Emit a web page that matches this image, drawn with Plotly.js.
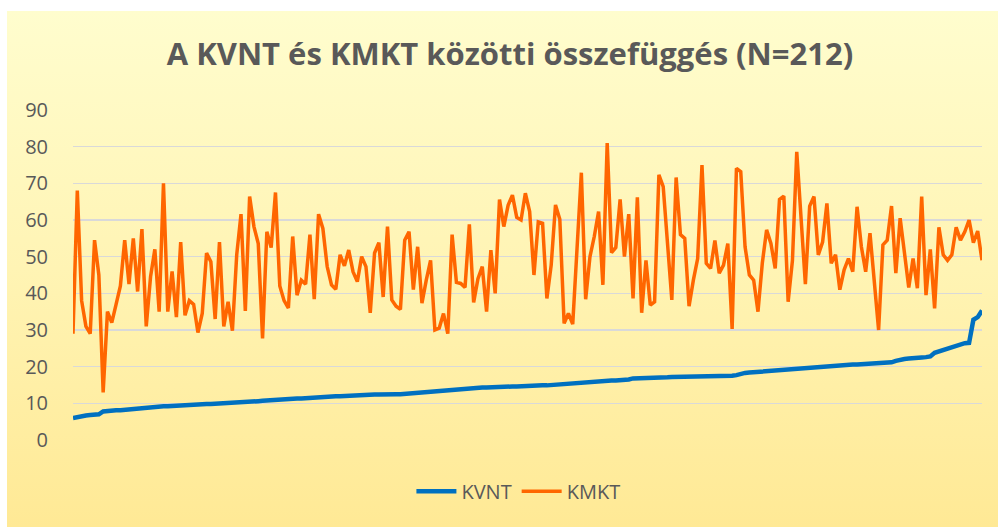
<!DOCTYPE html>
<html>
<head>
<meta charset="utf-8">
<script src="https://cdn.plot.ly/plotly-3.0.1.min.js"></script>
<style>
  html, body { margin: 0; padding: 0; background: #ffffff; }
  #bg { position: absolute; left: 7px; top: 11px; width: 991px; height: 516px;
        background: linear-gradient(to bottom, #FFFDCE 0%, #FFF4B4 50%, #FFE995 100%); }
  #chart { position: absolute; left: 0; top: 0; width: 998px; height: 527px; }
</style>
</head>
<body>
<div id="bg"></div>
<div id="chart"></div>
<script>
const titleText = "A KVNT és KMKT közötti összefüggés (N=212)";
const seriesNames = ["KVNT", "KMKT"];
const yTicks = [0, 10, 20, 30, 40, 50, 60, 70, 80, 90];

const kvnt = [
  6.0, 6.3, 6.6, 6.7, 6.8, 6.9, 7.0, 7.8, 8.0, 8.0,
  8.1, 8.1, 8.2, 8.3, 8.5, 8.8, 8.9, 9.0, 9.0, 9.1,
  9.1, 9.2, 9.2, 9.3, 9.3, 9.4, 9.4, 9.5, 9.5, 9.6,
  9.7, 9.8, 9.8, 9.9, 9.9, 10.0, 10.1, 10.2, 10.3, 10.4,
  10.4, 10.5, 10.5, 10.6, 10.7, 10.8, 10.9, 11.0, 11.1, 11.1,
  11.2, 11.2, 11.3, 11.3, 11.4, 11.5, 11.6, 11.6, 11.7, 11.8,
  11.8, 11.9, 11.9, 12.0, 12.1, 12.1, 12.2, 12.2, 12.3, 12.3,
  12.4, 12.4, 12.5, 12.5, 12.5, 12.5, 12.5, 12.6, 12.7, 12.8,
  13.0, 13.1, 13.2, 13.3, 13.4, 13.5, 13.5, 13.6, 13.7, 13.8,
  13.9, 14.0, 14.1, 14.1, 14.2, 14.3, 14.3, 14.4, 14.4, 14.5,
  14.5, 14.6, 14.6, 14.6, 14.7, 14.7, 14.7, 14.8, 14.8, 14.9,
  14.9, 15.0, 15.1, 15.2, 15.3, 15.4, 15.5, 15.5, 15.6, 15.7,
  15.9, 16.0, 16.1, 16.2, 16.2, 16.2, 16.2, 16.2, 16.3, 16.5,
  16.8, 16.8, 16.9, 16.9, 17.0, 17.0, 17.1, 17.1, 17.1, 17.2,
  17.2, 17.3, 17.3, 17.3, 17.4, 17.4, 17.4, 17.5, 17.5, 17.5,
  17.5, 17.5, 17.5, 17.5, 17.7, 18.1, 18.3, 18.4, 18.5, 18.6,
  18.7, 18.8, 18.9, 19.0, 19.2, 19.3, 19.4, 19.5, 19.6, 19.6,
  19.7, 19.8, 19.9, 20.0, 20.1, 20.2, 20.2, 20.3, 20.4, 20.5,
  20.5, 20.6, 20.6, 20.7, 20.7, 20.8, 20.8, 20.9, 20.9, 21.0,
  21.2, 21.6, 22.0, 22.1, 22.2, 22.4, 22.4, 22.5, 22.6, 22.8,
  23.8, 24.2, 24.6, 25.0, 25.2, 25.5, 26.1, 26.4, 26.5, 32.8,
  33.5, 35.3
];

const kmkt = [
  29, 68, 38, 31, 29, 54.5, 45, 13, 35, 32,
  37, 42, 54.5, 42.5, 55, 40.5, 57.5, 31, 44.5, 52,
  35, 70, 35, 46, 33.5, 54, 34, 38, 37, 29.3,
  34.5, 51, 48.6, 33, 54, 31, 37.7, 29.8, 50.5, 61.6,
  35.2, 66.4, 58.2, 53.6, 27.7, 56.8, 52.5, 67.5, 42, 38,
  36, 55.5, 39.5, 43.6, 42.5, 56, 38.4, 61.6, 57.7, 47.3,
  42.3, 41.1, 50.5, 47.5, 51.8, 45.9, 43.2, 50, 47.3, 34.7,
  51, 53.8, 39, 58.2, 38.2, 36.5, 35.6, 54.5, 56.8, 41,
  52.7, 37.3, 43.6, 49, 30, 30.5, 34.5, 29, 56, 43,
  42.7, 41.6, 58.8, 37.5, 44, 47.3, 35, 51.8, 40, 65.6,
  58.2, 64, 66.8, 60.7, 60, 67.3, 62.3, 45, 59.5, 59.1,
  38.6, 47.7, 64.1, 60.2, 31.8, 34.5, 31.6, 52.7, 72.9, 38.4,
  50, 55.5, 62.3, 42.3, 81, 51.1, 52.5, 65.6, 50, 61.6,
  38.6, 66.2, 34.7, 49, 36.8, 37.7, 72.3, 69.1, 54.5, 38.2,
  71.6, 56, 55, 36.5, 43.6, 49.5, 75, 48.2, 46.8, 54.4,
  45.5, 47.7, 53.6, 30.3, 74.1, 73.2, 52.7, 45, 43.6, 35,
  48.2, 57.3, 53.6, 46.8, 65.6, 66.5, 37.7, 49, 78.6, 60.5,
  42.5, 63.8, 66.4, 50.5, 54, 64.5, 48.2, 50.5, 41, 46.4,
  49.5, 45.9, 63.6, 52.7, 45.9, 56.4, 42.7, 30, 53.2, 54.5,
  63.8, 45.5, 60.5, 50, 41.6, 49.5, 41.4, 66.4, 39.5, 52,
  35.9, 58, 50.5, 49, 50.5, 58, 54.5, 56.8, 60, 53.8,
  57, 49
];

const idx = kvnt.map((_, i) => i + 1);

const traces = [
  { x: idx, y: kvnt, name: seriesNames[0], type: "scatter", mode: "lines",
    line: { color: "#0070C0", width: 4.5 }, hoverinfo: "y" },
  { x: idx, y: kmkt, name: seriesNames[1], type: "scatter", mode: "lines",
    line: { color: "#FF6600", width: 3.5 }, hoverinfo: "y" }
];

const layout = {
  width: 998, height: 527,
  paper_bgcolor: "rgba(0,0,0,0)",
  plot_bgcolor: "rgba(0,0,0,0)",
  margin: { l: 73, r: 16, t: 110, b: 87, pad: 0 },
  title: {
    text: titleText,
    x: 0.511, xref: "container", xanchor: "center",
    y: 0.898, yref: "container", yanchor: "middle",
    font: { family: "Open Sans", size: 31, weight: 700, color: "#595959" }
  },
  xaxis: {
    range: [1, 212], showgrid: false, zeroline: false, showline: false,
    showticklabels: false, ticks: "", fixedrange: true
  },
  yaxis: {
    range: [0, 90], tickvals: yTicks, ticktext: yTicks.map(String),
    showgrid: true, gridcolor: "#D9D9D9", gridwidth: 1.5,
    zeroline: false, showline: false, ticks: "",
    ticklabelstandoff: 24,
    tickfont: { family: "Open Sans", size: 20, color: "#595959" },
    fixedrange: true
  },
  showlegend: true,
  legend: {
    orientation: "h", x: 0.49, xanchor: "center",
    y: -0.155, yanchor: "middle",
    font: { family: "Open Sans", size: 20, color: "#595959" },
    bgcolor: "rgba(0,0,0,0)", itemwidth: 40
  }
};

Plotly.newPlot("chart", traces, layout, { displayModeBar: false, staticPlot: true });
</script>
</body>
</html>
